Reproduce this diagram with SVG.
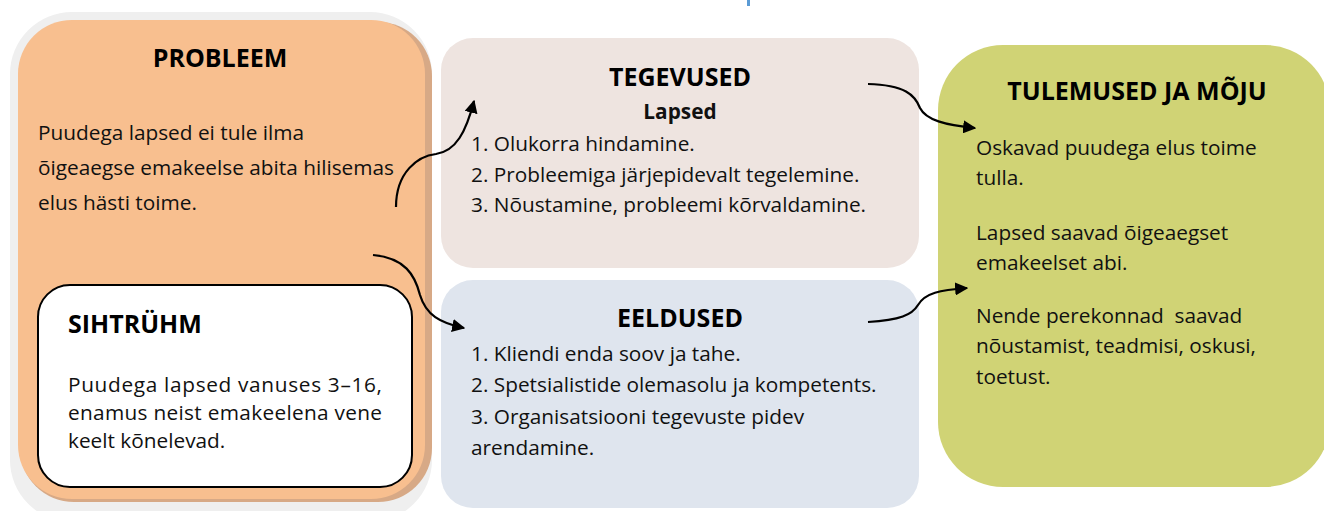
<svg xmlns="http://www.w3.org/2000/svg" width="1324" height="511" viewBox="0 0 1324 511">
<defs>
<style>
.t{font-family:"Open Sans","Liberation Sans",sans-serif;font-size:20.8px;fill:#111}
.h{font-family:"Open Sans","Liberation Sans",sans-serif;font-size:25px;font-weight:bold;fill:#000}
.c{stroke:#000;stroke-width:2.2;fill:none;marker-end:url(#ah)}
</style>
<marker id="ah" viewBox="0 0 10 10" refX="9" refY="5" markerWidth="6" markerHeight="6" markerUnits="strokeWidth" orient="auto">
<path d="M0,0 L10,5 L0,10 z" fill="#000"/>
</marker>
</defs>
<rect width="1324" height="511" fill="#fff"/>
<rect x="747" y="0" width="3" height="6" fill="#5B9BD5"/>
<g id="probleem">
<rect x="10" y="12" width="422" height="510" rx="62" fill="#EFEFEF"/>
<rect x="20" y="22" width="412" height="480" rx="54" fill="#D7A986"/>
<rect x="18" y="20" width="407" height="479" rx="54" fill="#F8BF8F"/>
<text class="h" x="220" y="67" text-anchor="middle">PROBLEEM</text>
<text class="t" x="38" y="140">Puudega lapsed ei tule ilma</text>
<text class="t" x="38" y="175">õigeaegse emakeelse abita hilisemas</text>
<text class="t" x="38" y="210">elus hästi toime.</text>
</g>
<g id="sihtryhm">
<rect x="38" y="285" width="374" height="202" rx="32" fill="#fff" stroke="#000" stroke-width="2"/>
<text class="h" x="68" y="333">SIHTRÜHM</text>
<text class="t" x="68" y="392" textLength="314" lengthAdjust="spacing">Puudega lapsed vanuses 3–16,</text>
<text class="t" x="68" y="420" textLength="314" lengthAdjust="spacing">enamus neist emakeelena vene</text>
<text class="t" x="68" y="448">keelt kõnelevad.</text>
</g>
<g id="tegevused">
<rect x="441" y="38" width="478" height="230" rx="32" fill="#EEE4E0"/>
<text class="h" x="680" y="86" text-anchor="middle">TEGEVUSED</text>
<text class="t" x="680" y="119" text-anchor="middle" font-weight="bold" font-size="18.5">Lapsed</text>
<text class="t" x="471" y="151">1. Olukorra hindamine.</text>
<text class="t" x="471" y="182">2. Probleemiga järjepidevalt tegelemine.</text>
<text class="t" x="471" y="212">3. Nõustamine, probleemi kõrvaldamine.</text>
</g>
<g id="eeldused">
<rect x="441" y="280" width="478" height="228" rx="32" fill="#DFE5EE"/>
<text class="h" x="680" y="327" text-anchor="middle">EELDUSED</text>
<text class="t" x="471" y="361">1. Kliendi enda soov ja tahe.</text>
<text class="t" x="471" y="392">2. Spetsialistide olemasolu ja kompetents.</text>
<text class="t" x="471" y="424">3. Organisatsiooni tegevuste pidev</text>
<text class="t" x="471" y="455">arendamine.</text>
</g>
<g id="tulemused">
<rect x="938" y="45" width="392" height="442" rx="65" fill="#D0D375"/>
<text class="h" x="1137" y="100" text-anchor="middle">TULEMUSED JA MÕJU</text>
<text class="t" x="976" y="155">Oskavad puudega elus toime</text>
<text class="t" x="976" y="185">tulla.</text>
<text class="t" x="976" y="240">Lapsed saavad õigeaegset</text>
<text class="t" x="976" y="270">emakeelset abi.</text>
<text class="t" x="976" y="323" xml:space="preserve">Nende perekonnad  saavad</text>
<text class="t" x="976" y="353">nõustamist, teadmisi, oskusi,</text>
<text class="t" x="976" y="384">toetust.</text>
</g>
<g id="connectors">
<path class="c" d="M396,207 C396,172 418,156 436,154 C456,151 466,132 474,101"/>
<path class="c" d="M373,255 C405,258 415,275 420,295 C426,315 440,323 464,328"/>
<path class="c" d="M868,84 C905,85 915,95 920,108 C926,120 945,125 975,128"/>
<path class="c" d="M868,322 C900,320 912,315 918,305 C925,293 940,290 967,288"/>
</g>
</svg>
